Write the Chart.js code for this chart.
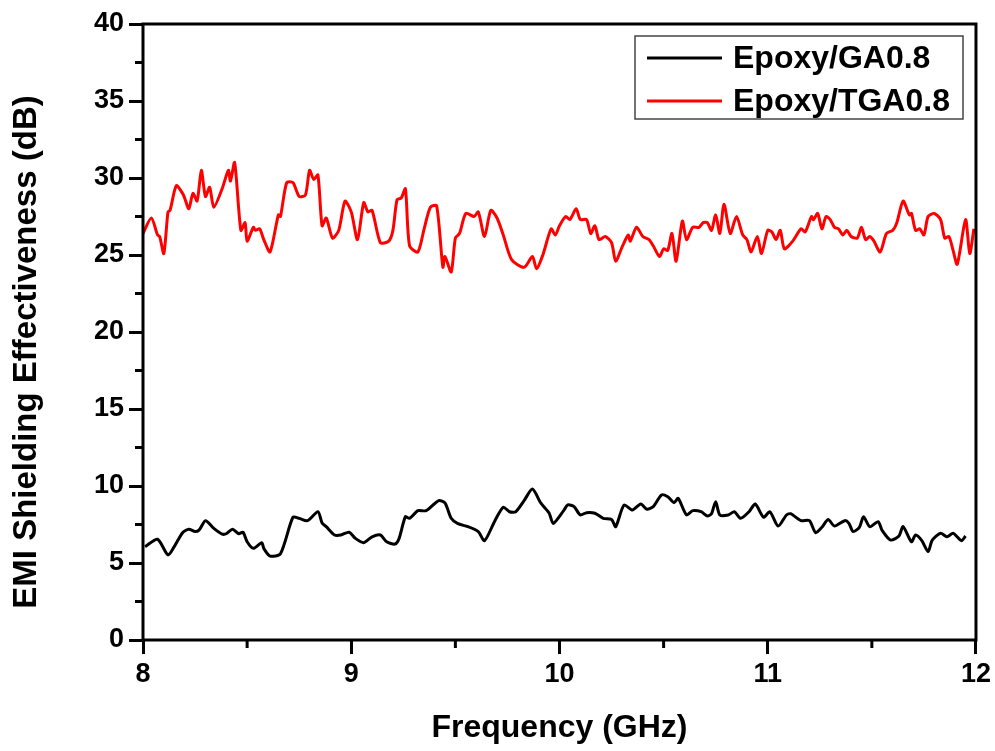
<!DOCTYPE html>
<html lang="en">
<head>
    <meta charset="UTF-8">
    <title>EMI Shielding Effectiveness</title>
    <script src="https://cdn.jsdelivr.net/npm/chart.js"></script>
    <style>
        body { margin: 0; background: #fff; }
    </style>
</head>
<body>
    <canvas id="seChart" width="995" height="751"></canvas>

    <script>
        // Epoxy/TGA0.8 (red)
        const tgaFreq = [8.00, 8.04, 8.07, 8.08, 8.10, 8.12, 8.13, 8.16, 8.19, 8.20, 8.22, 8.24, 8.26, 8.28, 8.30, 8.32, 8.34, 8.38, 8.41, 8.42,
            8.44, 8.47, 8.49, 8.50, 8.53, 8.54, 8.56, 8.58, 8.61, 8.65, 8.66, 8.69, 8.72, 8.75, 8.78, 8.80, 8.82, 8.84, 8.86, 8.88,
            8.91, 8.94, 8.97, 9.00, 9.03, 9.06, 9.08, 9.10, 9.14, 9.18, 9.20, 9.22, 9.24, 9.26, 9.28, 9.32, 9.35, 9.38, 9.41, 9.44,
            9.45, 9.48, 9.50, 9.52, 9.55, 9.59, 9.61, 9.64, 9.67, 9.70, 9.73, 9.77, 9.83, 9.87, 9.89, 9.92, 9.96, 9.98, 10.00, 10.03,
            10.05, 10.08, 10.10, 10.13, 10.15, 10.17, 10.19, 10.22, 10.25, 10.27, 10.30, 10.33, 10.34, 10.37, 10.40, 10.43, 10.45, 10.48, 10.50, 10.52,
            10.54, 10.56, 10.59, 10.61, 10.64, 10.67, 10.69, 10.71, 10.73, 10.75, 10.77, 10.79, 10.82, 10.85, 10.88, 10.90, 10.92, 10.95, 10.97, 11.00,
            11.02, 11.04, 11.06, 11.08, 11.12, 11.16, 11.18, 11.21, 11.22, 11.24, 11.26, 11.28, 11.30, 11.32, 11.34, 11.36, 11.38, 11.40, 11.43, 11.45,
            11.47, 11.49, 11.51, 11.54, 11.57, 11.60, 11.62, 11.65, 11.68, 11.69, 11.71, 11.73, 11.75, 11.77, 11.80, 11.83, 11.85, 11.87, 11.89, 11.91,
            11.95, 11.97, 11.99];
        const tgaSE = [26.4, 27.4, 26.3, 26.2, 25.1, 27.8, 27.9, 29.5, 29.0, 28.7, 28.0, 29.0, 28.5, 30.5, 28.8, 29.4, 28.1, 29.3, 30.5, 29.8,
            31.0, 26.6, 27.1, 25.9, 26.8, 26.6, 26.7, 26.0, 25.2, 27.6, 27.5, 29.7, 29.7, 28.8, 28.9, 30.5, 29.9, 30.2, 26.9, 27.4,
            26.1, 26.6, 28.5, 27.8, 26.0, 28.4, 27.8, 27.9, 25.8, 25.9, 26.6, 28.6, 28.7, 29.3, 25.6, 25.2, 26.7, 28.1, 28.2, 24.2,
            24.9, 23.9, 26.1, 26.4, 27.7, 27.5, 27.8, 26.2, 27.9, 27.4, 26.3, 24.7, 24.2, 24.9, 24.1, 25.0, 26.7, 26.3, 26.9, 27.5,
            27.3, 28.0, 27.3, 27.3, 26.4, 26.9, 26.0, 26.2, 25.8, 24.6, 25.5, 26.3, 25.9, 26.8, 26.2, 26.0, 25.6, 24.9, 25.4, 25.3,
            26.4, 24.6, 27.2, 26.0, 26.8, 26.8, 27.1, 27.1, 26.6, 27.6, 26.4, 28.3, 26.4, 27.5, 26.3, 26.0, 25.2, 26.2, 25.1, 26.6,
            26.5, 26.0, 26.6, 25.4, 25.9, 26.7, 26.5, 27.5, 27.3, 27.7, 26.7, 27.5, 27.3, 26.8, 26.7, 26.3, 26.6, 26.2, 26.1, 26.8,
            26.0, 26.2, 25.9, 25.2, 26.4, 26.6, 27.1, 28.5, 27.6, 27.7, 26.6, 26.7, 26.3, 27.5, 27.7, 27.3, 26.1, 26.2, 25.3, 24.4,
            27.3, 25.1, 26.7];

        // Epoxy/GA0.8 (black)
        const gaFreq = [8.01, 8.07, 8.12, 8.15, 8.19, 8.22, 8.25, 8.27, 8.30, 8.34, 8.38, 8.40, 8.43, 8.46, 8.48, 8.50, 8.53, 8.57, 8.58, 8.61,
            8.66, 8.72, 8.75, 8.79, 8.84, 8.86, 8.88, 8.92, 8.95, 8.99, 9.02, 9.06, 9.10, 9.14, 9.17, 9.21, 9.23, 9.26, 9.28, 9.32,
            9.36, 9.42, 9.45, 9.48, 9.51, 9.56, 9.61, 9.64, 9.69, 9.73, 9.76, 9.79, 9.83, 9.87, 9.91, 9.95, 9.97, 10.02, 10.04, 10.07,
            10.10, 10.13, 10.17, 10.21, 10.25, 10.27, 10.31, 10.35, 10.39, 10.42, 10.45, 10.49, 10.52, 10.55, 10.57, 10.61, 10.64, 10.68, 10.71, 10.73,
            10.75, 10.77, 10.81, 10.84, 10.87, 10.91, 10.94, 10.98, 11.01, 11.05, 11.09, 11.11, 11.16, 11.20, 11.23, 11.26, 11.29, 11.32, 11.37, 11.39,
            11.41, 11.44, 11.46, 11.49, 11.53, 11.55, 11.59, 11.63, 11.65, 11.69, 11.71, 11.74, 11.77, 11.79, 11.83, 11.86, 11.89, 11.91, 11.93, 11.95];
        const gaSE = [6.06, 6.54, 5.52, 6.06, 6.97, 7.19, 7.04, 7.15, 7.75, 7.25, 6.88, 6.90, 7.19, 6.90, 7.00, 6.38, 5.95, 6.32, 5.95, 5.45,
            5.60, 7.97, 7.90, 7.75, 8.33, 7.60, 7.36, 6.82, 6.82, 7.00, 6.60, 6.32, 6.70, 6.82, 6.38, 6.23, 6.60, 8.00, 7.90, 8.40,
            8.40, 9.05, 8.90, 7.90, 7.57, 7.36, 7.04, 6.45, 7.75, 8.62, 8.33, 8.33, 9.05, 9.80, 8.90, 8.25, 7.57, 8.40, 8.77, 8.66,
            8.12, 8.27, 8.23, 7.90, 7.83, 7.36, 8.77, 8.44, 8.83, 8.49, 8.66, 9.42, 9.30, 8.92, 9.20, 8.12, 8.40, 8.33, 8.05, 8.20,
            8.98, 8.12, 8.12, 8.33, 7.90, 8.33, 8.83, 7.97, 8.33, 7.40, 8.12, 8.20, 7.75, 7.75, 6.97, 7.32, 7.83, 7.40, 7.75, 7.57,
            7.04, 7.32, 8.00, 7.36, 7.68, 7.10, 6.49, 6.75, 7.36, 6.38, 6.82, 6.45, 5.74, 6.49, 6.93, 6.70, 6.93, 6.70, 6.45, 6.75];

        const seriesLabels = ['Epoxy/GA0.8', 'Epoxy/TGA0.8'];
        const seriesColors = ['#000000', '#ff0000'];
        const yTitle = 'EMI Shielding Effectiveness (dB)';

        const FONT = "'Liberation Sans', Arial, sans-serif";

        function toPoints(xs, ys) {
            return xs.map((x, i) => ({ x: x, y: ys[i] }));
        }

        // frame, minor ticks, y title and the boxed legend
        const framePlugin = {
            id: 'frame',
            afterDraw(chart) {
                const ctx = chart.ctx;
                const area = chart.chartArea;
                const xs = chart.scales.x;
                const ys = chart.scales.y;
                ctx.save();
                ctx.strokeStyle = '#000';
                ctx.lineWidth = 3;
                ctx.strokeRect(area.left, area.top, area.right - area.left, area.bottom - area.top);

                // minor ticks
                ctx.beginPath();
                for (let v = 8.5; v < 12; v += 1) {
                    const px = xs.getPixelForValue(v);
                    ctx.moveTo(px, area.bottom);
                    ctx.lineTo(px, area.bottom + 8);
                }
                for (let v = 2.5; v < 40; v += 5) {
                    const py = ys.getPixelForValue(v);
                    ctx.moveTo(area.left, py);
                    ctx.lineTo(area.left - 8, py);
                }
                ctx.stroke();

                // y axis title (sits a bit lower than the plot centre in the original)
                ctx.save();
                ctx.translate(27, 352);
                ctx.rotate(-Math.PI / 2);
                ctx.font = 'bold 33px ' + FONT;
                ctx.textAlign = 'center';
                ctx.textBaseline = 'middle';
                ctx.fillStyle = '#000';
                ctx.fillText(yTitle, 0, 0);
                ctx.restore();

                // legend
                const bx = 635, by = 36, bw = 328, bh = 83;
                ctx.lineWidth = 1.5;
                ctx.strokeStyle = '#444';
                ctx.strokeRect(bx, by, bw, bh);
                ctx.font = 'bold 32px ' + FONT;
                ctx.textBaseline = 'middle';
                ctx.fillStyle = '#000';
                chart.data.datasets.forEach((ds, i) => {
                    const ly = by + 22 + i * 43;
                    ctx.strokeStyle = ds.borderColor;
                    ctx.lineWidth = 3;
                    ctx.beginPath();
                    ctx.moveTo(647, ly);
                    ctx.lineTo(722, ly);
                    ctx.stroke();
                    ctx.fillText(ds.label, 733, ly + 1);
                });
                ctx.restore();
            }
        };

        new Chart(document.getElementById('seChart').getContext('2d'), {
            type: 'line',
            data: {
                datasets: [
                    {
                        label: seriesLabels[0],
                        data: toPoints(gaFreq, gaSE),
                        borderColor: seriesColors[0],
                        borderWidth: 3,
                        pointRadius: 0,
                        tension: 0.25,
                        fill: false
                    },
                    {
                        label: seriesLabels[1],
                        data: toPoints(tgaFreq, tgaSE),
                        borderColor: seriesColors[1],
                        borderWidth: 3,
                        pointRadius: 0,
                        tension: 0.25,
                        fill: false
                    }
                ]
            },
            options: {
                responsive: false,
                animation: false,
                devicePixelRatio: 1,
                layout: { padding: { left: 0, top: 24, right: 17, bottom: 0 } },
                plugins: {
                    legend: { display: false },
                    tooltip: { enabled: false }
                },
                scales: {
                    x: {
                        type: 'linear',
                        min: 8,
                        max: 12,
                        afterFit: s => { s.height = 111; },
                        ticks: {
                            stepSize: 1,
                            color: '#000',
                            padding: 4,
                            font: { family: FONT, size: 27, weight: 'bold' }
                        },
                        grid: {
                            drawOnChartArea: false,
                            drawTicks: true,
                            tickLength: 14,
                            tickWidth: 3,
                            tickColor: '#000'
                        },
                        border: { display: false },
                        title: {
                            display: true,
                            text: 'Frequency (GHz)',
                            color: '#000',
                            padding: { top: 0, bottom: 4 },
                            font: { family: FONT, size: 32, weight: 'bold' }
                        }
                    },
                    y: {
                        min: 0,
                        max: 40,
                        afterFit: s => { s.width = 143; },
                        ticks: {
                            stepSize: 5,
                            color: '#000',
                            padding: 5,
                            font: { family: FONT, size: 27, weight: 'bold' }
                        },
                        grid: {
                            drawOnChartArea: false,
                            drawTicks: true,
                            tickLength: 14,
                            tickWidth: 3,
                            tickColor: '#000'
                        },
                        border: { display: false },
                        title: { display: false }
                    }
                }
            },
            plugins: [framePlugin]
        });
    </script>
</body>
</html>
